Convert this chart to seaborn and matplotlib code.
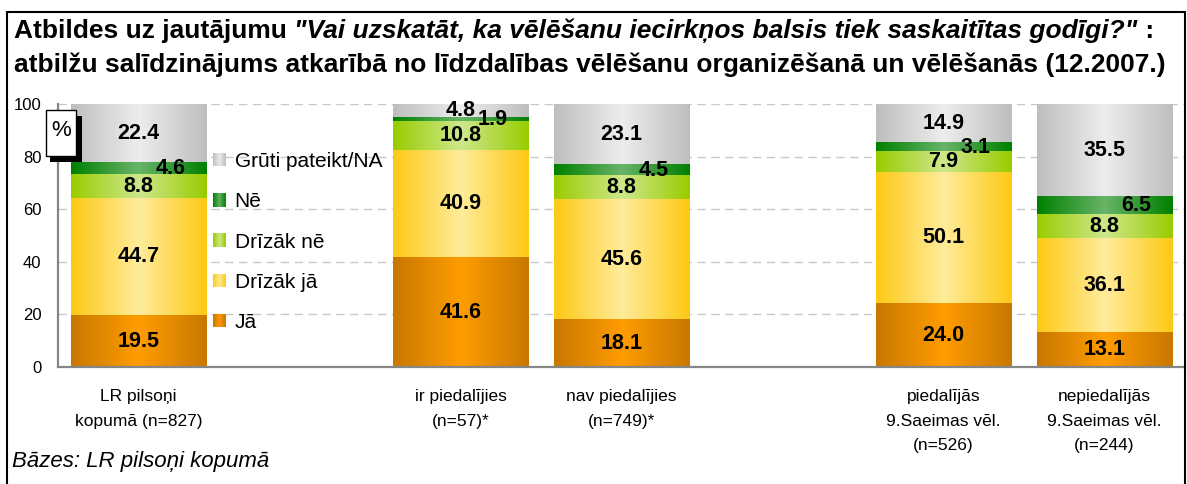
import numpy as np
import pandas as pd
import matplotlib
matplotlib.use("Agg")
import matplotlib.pyplot as plt
import seaborn as sns
from matplotlib.colors import LinearSegmentedColormap
from matplotlib.patches import Rectangle
from matplotlib.legend_handler import HandlerBase

sns.set_theme(style="white")
plt.rcParams["font.family"] = ["Liberation Sans", "DejaVu Sans"]
plt.rcParams["text.color"] = "black"
plt.rcParams["xtick.color"] = "black"
plt.rcParams["ytick.color"] = "black"

# --- data ---------------------------------------------------------------
groups = ["LR pilsoņi\nkopumā (n=827)",
          "ir piedalījies\n(n=57)*",
          "nav piedalījies\n(n=749)*",
          "piedalījās\n9.Saeimas vēl.\n(n=526)",
          "nepiedalījās\n9.Saeimas vēl.\n(n=244)"]
# category order on the axis, blanks are the empty slots
order = [groups[0], " ", groups[1], groups[2], "  ", groups[3], groups[4]]

answers = ["Jā", "Drīzāk jā", "Drīzāk nē", "Nē", "Grūti pateikt/NA"]
ja = [19.5, 41.6, 18.1, 24.0, 13.1]
drizak_ja = [44.7, 40.9, 45.6, 50.1, 36.1]
drizak_ne = [8.8, 10.8, 8.8, 7.9, 8.8]
ne = [4.6, 1.9, 4.5, 3.1, 6.5]
gruti = [22.4, 4.8, 23.1, 14.9, 35.5]

# edge colour / centre colour of each gradient
edge_colors = ["#C87800", "#FDC914", "#99CC00", "#008000", "#BEBEBE"]
center_colors = ["#FF9C00", "#FFEC9C", "#CDE88C", "#68B468", "#EDEDED"]

df = pd.DataFrame({"group": groups, "Jā": ja, "Drīzāk jā": drizak_ja,
                   "Drīzāk nē": drizak_ne, "Nē": ne, "Grūti pateikt/NA": gruti})
cum = df[answers].cumsum(axis=1)
bottoms = cum.shift(1, axis=1).fillna(0)

cmaps = [LinearSegmentedColormap.from_list(a, [e, c, e])
         for a, e, c in zip(answers, edge_colors, center_colors)]

W, H = 1187, 484
fig = plt.figure(figsize=(W / 100, H / 100), dpi=100)
ax = fig.add_axes([58 / W, 1 - 367 / H, 1127 / W, 263 / H])

# stacked bars: draw cumulative totals from the top layer down
grad = np.linspace(0, 1, 256)
for i in range(len(answers) - 1, -1, -1):
    n0 = len(ax.patches)
    sns.barplot(x=df["group"], y=cum[answers[i]], order=order, color=edge_colors[i],
                width=0.84, saturation=1, errorbar=None, linewidth=0, ax=ax)
    for p in ax.patches[n0:]:
        x0, w = p.get_x(), p.get_width()
        g = order[int(round(x0 + w / 2))]
        row = groups.index(g)
        b, t = bottoms.loc[row, answers[i]], cum.loc[row, answers[i]]
        img = cmaps[i](grad)[None, :, :]
        ax.imshow(img, extent=[x0, x0 + w, b, t], aspect="auto",
                  interpolation="bilinear", zorder=2.5)

# value labels
for row, g in enumerate(groups):
    xc = order.index(g)
    for i, a in enumerate(answers):
        v = df.loc[row, a]
        yc = bottoms.loc[row, a] + v / 2
        dx = 0.2 if a == "Nē" else 0.0
        ax.text(xc + dx, yc, f"{v:.1f}", ha="center", va="center",
                fontsize=15.5, fontweight="bold", color="black", zorder=5)

ax.set_xlim(-0.5, 6.5)
ax.set_ylim(0, 100)
ax.set_yticks(range(0, 101, 20))
ax.set_xlabel("")
ax.set_ylabel("")
ax.set_axisbelow(True)
ax.yaxis.grid(True, linestyle=(0, (6, 4)), color="#C8C8C8", linewidth=1)
ax.xaxis.grid(False)
for s in ["top", "right"]:
    ax.spines[s].set_visible(False)
for s in ["left", "bottom"]:
    ax.spines[s].set_color("#868686")
    ax.spines[s].set_linewidth(1.6)
    ax.spines[s].set_zorder(4)

ax.set_xticks(range(len(order)))
ax.set_xticklabels(order, fontsize=12.5, linespacing=1.8)
ax.set_xticks(np.arange(-0.5, 7, 1), minor=True)
ax.tick_params(axis="x", which="major", length=0, pad=16)
ax.tick_params(axis="x", which="minor", length=4, width=1, color="#333333", direction="out")
ax.tick_params(axis="y", length=4, width=1, color="#333333", direction="out",
               pad=8, labelsize=12)


# legend with small gradient keys
class GradientKey:
    def __init__(self, cmap):
        self.cmap = cmap


class GradientHandler(HandlerBase):
    def create_artists(self, legend, orig_handle, xdescent, ydescent,
                       width, height, fontsize, trans):
        n = 14
        return [Rectangle((-xdescent + width * k / n, -ydescent), width / n, height,
                          facecolor=orig_handle.cmap((k + 0.5) / n), edgecolor="none",
                          transform=trans) for k in range(n)]


keys = [GradientKey(c) for c in cmaps][::-1]
leg = ax.legend(keys, answers[::-1], handler_map={GradientKey: GradientHandler()},
                loc="upper left", bbox_to_anchor=(213 / W, 1 - 152 / H),
                bbox_transform=fig.transFigure, frameon=False, fontsize=15,
                handlelength=0.62, handleheight=0.62, handletextpad=0.42,
                labelspacing=1.02, borderpad=0, borderaxespad=0)
leg.set_zorder(6)

# "%" box with shadow
def fpx(x, y):
    return (x / W, 1 - y / H)

fig.add_artist(Rectangle(fpx(50, 162), 32 / W, 46 / H, transform=fig.transFigure,
                         facecolor="black", edgecolor="none", zorder=7))
fig.add_artist(Rectangle(fpx(46, 156), 30 / W, 46 / H, transform=fig.transFigure,
                         facecolor="white", edgecolor="black", linewidth=1, zorder=8))
fig.text(*fpx(61, 131), "%", ha="center", va="center", fontsize=16, zorder=9)

# outer frame
fig.add_artist(Rectangle(fpx(7, 494), 1178 / W, 482 / H, transform=fig.transFigure,
                         facecolor="none", edgecolor="black", linewidth=1.5, zorder=10))

# title: bold + bold italic question
t1 = fig.text(*fpx(14, 38), "Atbildes uz jautājumu ", fontsize=19, fontweight="bold",
              va="baseline", ha="left")
t2 = ax.annotate("\"Vai uzskatāt, ka vēlēšanu iecirkņos balsis tiek saskaitītas godīgi?\"",
                 xy=(1, 0), xycoords=t1, va="bottom", ha="left", fontsize=19,
                 fontweight="bold", fontstyle="italic", annotation_clip=False)
ax.annotate(" :", xy=(1, 0), xycoords=t2, va="bottom", ha="left", fontsize=19,
            fontweight="bold", annotation_clip=False)
fig.text(*fpx(14, 72), "atbilžu salīdzinājums atkarībā no līdzdalības vēlēšanu "
         "organizēšanā un vēlēšanās (12.2007.)", fontsize=19, fontweight="bold",
         va="baseline", ha="left")

fig.text(*fpx(12, 467), "Bāzes: LR pilsoņi kopumā", fontsize=16, fontstyle="italic",
         va="baseline", ha="left")

fig.savefig("out.png", dpi=100)
